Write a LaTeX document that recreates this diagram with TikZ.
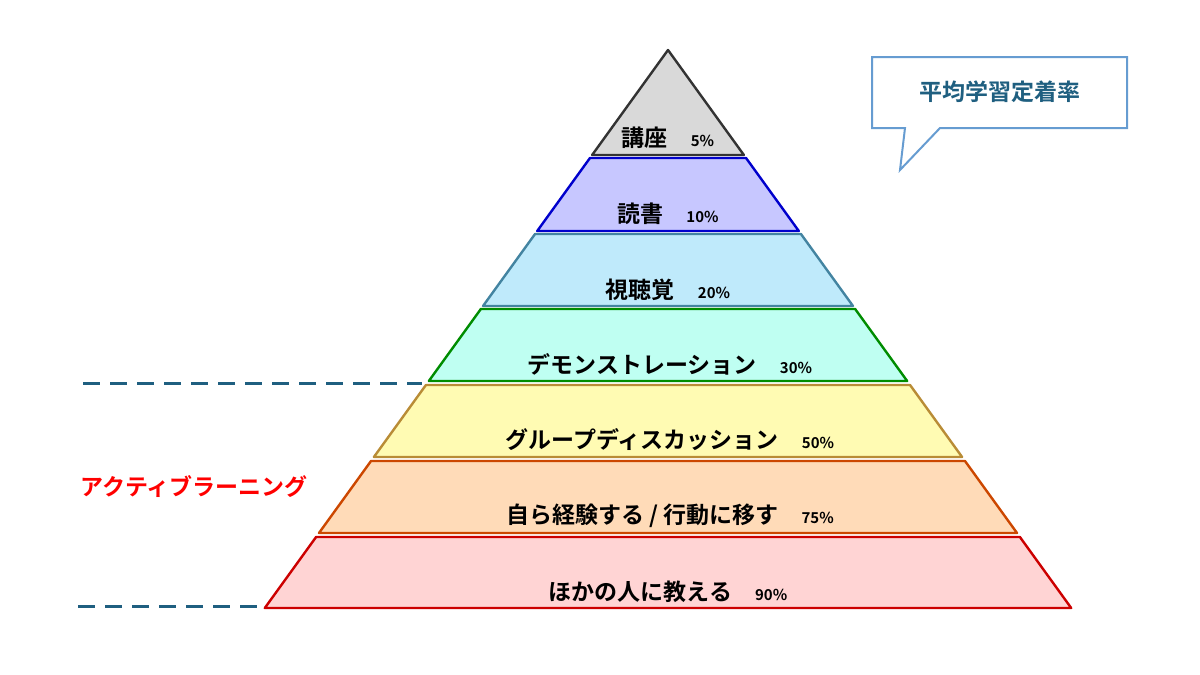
\documentclass[tikz,border=0pt]{standalone}
\usepackage{fontspec}
\newfontfamily\jp{Noto Sans CJK JP}[BoldFont={Noto Sans CJK JP Bold}]
\setmainfont{Liberation Sans}
\begin{document}
\begin{tikzpicture}[x=0.5pt,y=-0.5pt,
  band/.style={line width=1.2pt,line join=round},
  lab/.style={font=\jp\bfseries\fontsize{11.5}{13}\selectfont,inner sep=0},
  dashln/.style={draw=black!15!blue!40!cyan!60!black,line width=1.5pt,dash pattern=on 8.5pt off 5pt}]
\useasboundingbox (0,0) rectangle (1200,675);
\definecolor{dk}{HTML}{1F5F80}
\def\S{0.7226}
\def\band#1#2#3#4{%
  \pgfmathsetmacro\ta{668-\S*(#1-50)}\pgfmathsetmacro\tb{668+\S*(#1-50)}%
  \pgfmathsetmacro\ba{668-\S*(#2-50)}\pgfmathsetmacro\bb{668+\S*(#2-50)}%
  \filldraw[band,fill=#3,draw=#4] (\ta,#1) -- (\tb,#1) -- (\bb,#2) -- (\ba,#2) -- cycle;}
\band{50}{155}{black!15}{black!80}
\band{158}{231}{blue!22!white}{blue!80!black}
\band{234}{306}{cyan!25!white}{cyan!60!black}
\band{309}{381}{green!20!cyan!25!white}{green!55!black}
\band{385}{457}{yellow!30!white}{yellow!65!red!70!black}
\band{461}{533}{orange!28!white}{orange!70!red!80!black}
\band{537}{608}{red!17!white}{red!80!black}
\node[lab] (l1) at (668,138) {講座\quad{\fontsize{7.5}{9}\selectfont 5\%}};
\node[lab] (l2) at (668,214) {読書\quad{\fontsize{7.5}{9}\selectfont 10\%}};
\node[lab] (l3) at (668,290) {視聴覚\quad{\fontsize{7.5}{9}\selectfont 20\%}};
\node[lab] (l4) at (670,364) {デモンストレーション\quad{\fontsize{7.5}{9}\selectfont 30\%}};
\node[lab] (l5) at (670,440) {グループディスカッション\quad{\fontsize{7.5}{9}\selectfont 50\%}};
\node[lab] (l6) at (670,516) {自ら経験する / 行動に移す\quad{\fontsize{7.5}{9}\selectfont 75\%}};
\node[lab] (l7) at (668,592) {ほかの人に教える\quad{\fontsize{7.5}{9}\selectfont 90\%}};
\coordinate (d1a) at (83,383); \coordinate (d1b) at (422,383);
\coordinate (d2a) at (78,606); \coordinate (d2b) at (260,606);
\draw[dashln,draw=dk] (d1a) -- (d1b);
\draw[dashln,draw=dk] (d2a) -- (d2b);
\node[lab,text=red,anchor=west] (al) at (80,487) {アクティブラーニング};
\draw[draw=blue!50!cyan!70!black!60!white,line width=1pt,fill=white,line join=miter]
  (872,57) -- (1127,57) -- (1127,128) -- (940,128) -- (900,170) -- (905,128) -- (872,128) -- cycle;
\node[lab,text=dk] (cal) at (1000,92) {平均学習定着率};
\end{tikzpicture}
\end{document}
